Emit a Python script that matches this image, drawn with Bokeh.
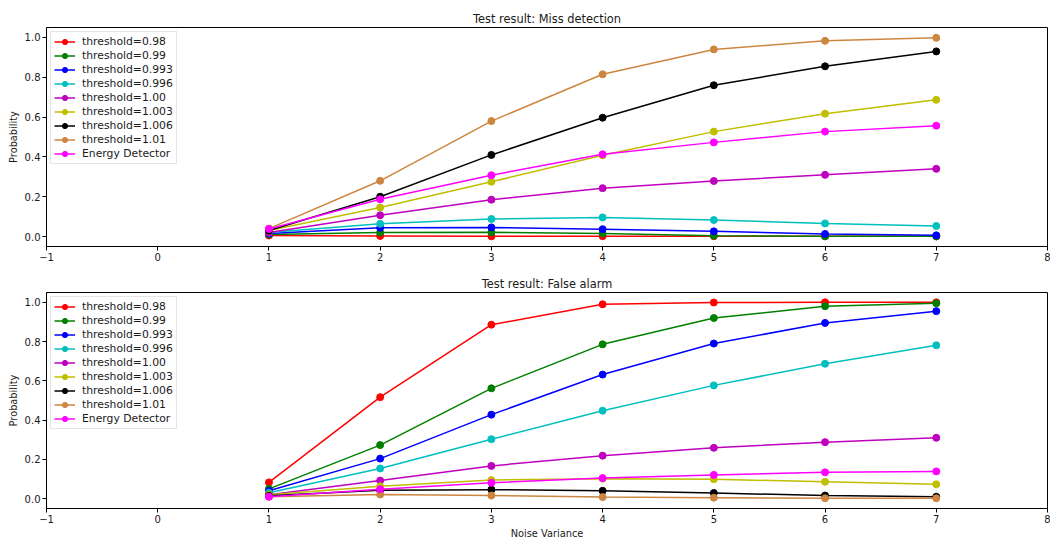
from bokeh.plotting import figure
from bokeh.layouts import column
from bokeh.models import FixedTicker, Range1d
from bokeh.embed import file_html
from bokeh.resources import INLINE

x_vals = [1, 2, 3, 4, 5, 6, 7]
labels = ["threshold=0.98", "threshold=0.99", "threshold=0.993", "threshold=0.996",
          "threshold=1.00", "threshold=1.003", "threshold=1.006", "threshold=1.01",
          "Energy Detector"]
colors = ["#ff0000", "#008000", "#0000ff", "#00bfbf", "#bf00bf", "#bfbf00",
          "#000000", "#cd853f", "#ff00ff"]

miss_098 = [0.005, 0.003, 0.001, 0.002, 0.002, 0.001, 0.001]
miss_099 = [0.010, 0.020, 0.021, 0.015, 0.004, 0.002, 0.001]
miss_0993 = [0.015, 0.044, 0.046, 0.037, 0.026, 0.013, 0.006]
miss_0996 = [0.020, 0.064, 0.088, 0.096, 0.083, 0.066, 0.053]
miss_100 = [0.020, 0.107, 0.185, 0.243, 0.279, 0.310, 0.340]
miss_1003 = [0.030, 0.146, 0.275, 0.408, 0.527, 0.617, 0.687]
miss_1006 = [0.030, 0.200, 0.410, 0.597, 0.760, 0.855, 0.930]
miss_101 = [0.040, 0.280, 0.580, 0.815, 0.940, 0.983, 0.998]
miss_energy = [0.038, 0.187, 0.308, 0.413, 0.473, 0.527, 0.557]

fa_098 = [0.083, 0.517, 0.886, 0.990, 0.999, 1.000, 1.000]
fa_099 = [0.050, 0.273, 0.562, 0.786, 0.920, 0.980, 0.995]
fa_0993 = [0.040, 0.204, 0.428, 0.632, 0.790, 0.895, 0.955]
fa_0996 = [0.030, 0.154, 0.303, 0.448, 0.577, 0.687, 0.781]
fa_100 = [0.020, 0.092, 0.167, 0.219, 0.259, 0.288, 0.310]
fa_1003 = [0.020, 0.063, 0.095, 0.102, 0.099, 0.086, 0.073]
fa_1006 = [0.015, 0.043, 0.046, 0.040, 0.029, 0.016, 0.010]
fa_101 = [0.010, 0.021, 0.016, 0.008, 0.005, 0.002, 0.002]
fa_energy = [0.010, 0.048, 0.081, 0.105, 0.121, 0.134, 0.139]

miss_series = [miss_098, miss_099, miss_0993, miss_0996, miss_100, miss_1003,
               miss_1006, miss_101, miss_energy]
fa_series = [fa_098, fa_099, fa_0993, fa_0996, fa_100, fa_1003, fa_1006,
             fa_101, fa_energy]

x_ticks = [-1, 0, 1, 2, 3, 4, 5, 6, 7, 8]
y_ticks = [0.0, 0.2, 0.4, 0.6, 0.8, 1.0]
y_tick_labels = {0.0: "0.0", 0.2: "0.2", 0.4: "0.4", 0.6: "0.6", 0.8: "0.8", 1.0: "1.0"}

FONT = "DejaVu Sans"
TEXT = "#1a1a1a"


def make_fig(title, series, height, top_border, bottom_border, xlabel=None):
    p = figure(width=1050, height=height, output_backend="svg", toolbar_location=None,
               x_range=Range1d(-1, 8), y_range=Range1d(-0.05, 1.05),
               min_border_left=46, min_border_right=3, min_border_top=top_border,
               min_border_bottom=bottom_border, title=title)
    p.title.align = "center"
    p.title.text_font = FONT
    p.title.text_font_size = "11.4px"
    p.title.text_font_style = "normal"
    p.title.text_color = TEXT
    p.title.offset = 0
    p.title.standoff = 3
    p.outline_line_color = "black"
    p.outline_line_alpha = 1.0
    p.outline_line_width = 1
    p.xgrid.visible = False
    p.ygrid.visible = False
    p.xaxis.ticker = FixedTicker(ticks=x_ticks)
    p.yaxis.ticker = FixedTicker(ticks=y_ticks)
    p.yaxis.major_label_overrides = y_tick_labels
    for ax in [p.xaxis[0], p.yaxis[0]]:
        ax.axis_line_color = "black"
        ax.major_tick_line_color = "black"
        ax.minor_tick_line_color = None
        ax.major_tick_out = 4
        ax.major_tick_in = 0
        ax.major_label_standoff = 2
        ax.major_label_text_font = FONT
        ax.major_label_text_font_size = "10px"
        ax.major_label_text_color = TEXT
        ax.axis_label_text_font = FONT
        ax.axis_label_text_font_size = "9.8px"
        ax.axis_label_text_font_style = "normal"
        ax.axis_label_text_color = TEXT
        ax.axis_label_standoff = 3
    p.yaxis.axis_label = "Probability"
    if xlabel:
        p.xaxis.axis_label = xlabel
        p.xaxis.axis_label_standoff = 2
    for lab, col, ys in zip(labels, colors, series):
        p.line(x_vals, ys, line_color=col, line_width=1.5, legend_label=lab)
        p.scatter(x_vals, ys, marker="circle", size=7, fill_color=col,
                  line_color=col, legend_label=lab)
    lg = p.legend[0]
    lg.location = "top_left"
    lg.margin = 4
    lg.padding = 3
    lg.spacing = 1
    lg.label_text_font = FONT
    lg.label_text_font_size = "10.8px"
    lg.label_text_color = TEXT
    lg.label_height = 13
    lg.glyph_height = 13
    lg.glyph_width = 21
    lg.label_standoff = 7
    lg.border_line_color = "#cccccc"
    lg.border_line_width = 1
    lg.background_fill_alpha = 0.8
    return p


p1 = make_fig("Test result: Miss detection", miss_series, 273, 27, 27)
p2 = make_fig("Test result: False alarm", fa_series, 268, 19, 30, xlabel="Noise Variance")

layout = column(p1, p2, spacing=0)
open("out.html", "w").write(file_html(layout, INLINE))
